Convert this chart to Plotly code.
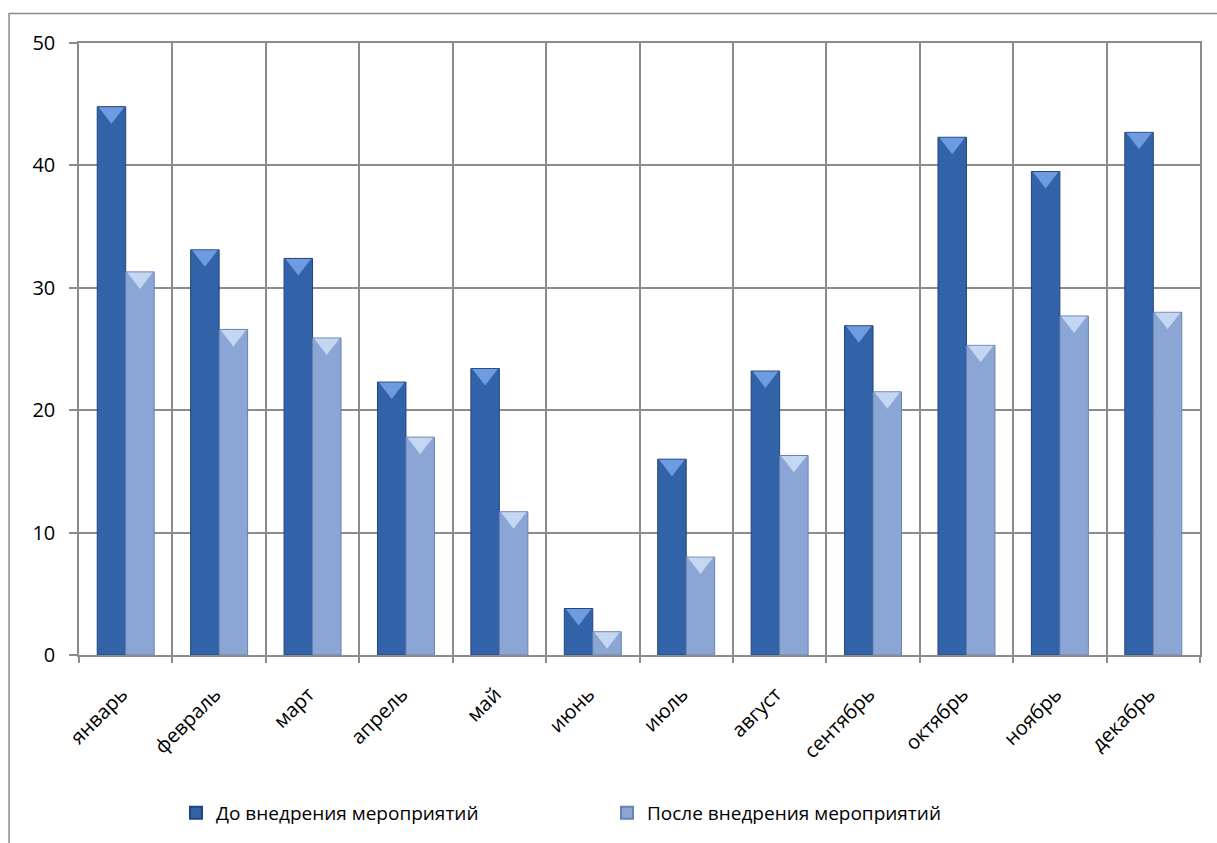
import plotly.graph_objects as go

# Monthly values before and after the measures were introduced
months = ["январь", "февраль", "март", "апрель", "май", "июнь",
          "июль", "август", "сентябрь", "октябрь", "ноябрь", "декабрь"]
before = [44.8, 33.1, 32.4, 22.3, 23.4, 3.8, 16.0, 23.2, 26.9, 42.3, 39.5, 42.7]
after = [31.3, 26.6, 25.9, 17.8, 11.7, 1.9, 8.0, 16.3, 21.5, 25.3, 27.7, 28.0]

series_names = ["До внедрения мероприятий", "После внедрения мероприятий"]

FONT = "Open Sans"
GRID = "#8c8c8c"
GAP = 0.39

fig = go.Figure()
fig.add_trace(go.Bar(
    x=months, y=before, name=series_names[0],
    marker=dict(color="#3263a8", line=dict(color="#22467c", width=1)),
))
fig.add_trace(go.Bar(
    x=months, y=after, name=series_names[1],
    marker=dict(color="#8ba6d4", line=dict(color="#6b82b0", width=1)),
))

# bevelled caps on top of each bar
for vals, cap in ((before, "#6f9be0"), (after, "#c4d6f2")):
    fig.add_trace(go.Scatter(
        x=months, y=vals, mode="markers", showlegend=False, hoverinfo="skip",
        marker=dict(symbol="triangle-down", angle=0, standoff=6, size=22,
                    color=cap, line=dict(width=0)),
    ))

fig.update_layout(
    width=1217, height=843,
    margin=dict(l=79, r=17, t=43, b=187),
    paper_bgcolor="white", plot_bgcolor="white",
    barmode="group", bargap=GAP, bargroupgap=0,
    scattermode="group", scattergap=GAP,
    font=dict(family=FONT, size=19, color="black"),
    showlegend=True,
    legend=dict(
        orientation="h", x=0.471, xanchor="center", y=-0.256, yanchor="middle",
        font=dict(family=FONT, size=19, color="black"),
        entrywidth=386, entrywidthmode="pixels",
        itemsizing="constant",
    ),
    shapes=[dict(
        type="rect", xref="paper", yref="paper",
        x0=-0.0624, x1=1.2, y0=-0.6, y1=1.048,
        line=dict(color="#8c8c8c", width=1.5), fillcolor="rgba(0,0,0,0)",
        layer="below",
    )],
)

fig.update_xaxes(
    type="category", tickson="boundaries",
    showgrid=True, gridcolor=GRID, gridwidth=1.5,
    showline=True, linecolor=GRID, linewidth=1.5, mirror=True,
    ticks="outside", ticklen=6, tickcolor=GRID, tickwidth=1.5,
    tickangle=-45, tickfont=dict(family=FONT, size=20),
    ticklabelstandoff=18, ticklabelshift=-4,
)
fig.update_yaxes(
    range=[0, 50], dtick=10,
    showgrid=True, gridcolor=GRID, gridwidth=1.5,
    showline=True, linecolor=GRID, linewidth=1.5, mirror=True,
    ticks="outside", ticklen=8, tickcolor=GRID, tickwidth=1.5,
    zeroline=False, tickfont=dict(family=FONT, size=20),
    ticklabelstandoff=10,
)

fig.write_html("out.html")
